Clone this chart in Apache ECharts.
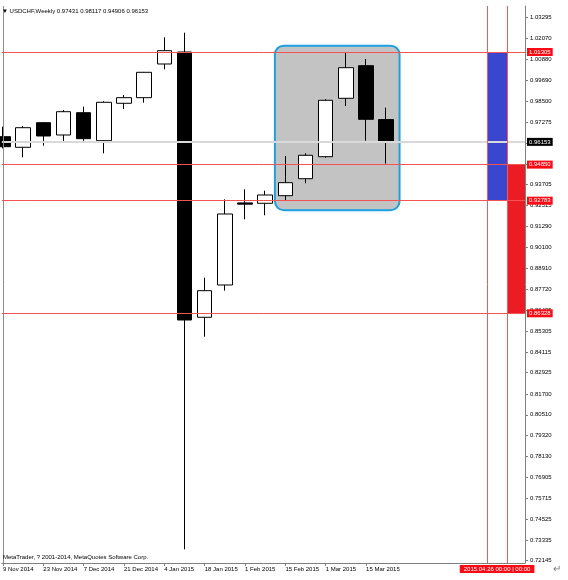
<!DOCTYPE html>
<html>
<head>
<meta charset="utf-8">
<title>USDCHF Weekly</title>
<script src="https://cdn.jsdelivr.net/npm/echarts@6/dist/echarts.min.js"></script>
<style>
html, body { margin: 0; padding: 0; background: #fff; }
#chart { width: 568px; height: 580px; }
</style>
</head>
<body>
<div id="chart"></div>
<script>
// weekly bars, index 0 = week of 9 Nov 2014
var weeks = ['9 Nov 2014', '16 Nov 2014', '23 Nov 2014', '30 Nov 2014', '7 Dec 2014',
    '14 Dec 2014', '21 Dec 2014', '28 Dec 2014', '4 Jan 2015', '11 Jan 2015',
    '18 Jan 2015', '25 Jan 2015', '1 Feb 2015', '8 Feb 2015', '15 Feb 2015',
    '22 Feb 2015', '1 Mar 2015', '8 Mar 2015', '15 Mar 2015', '22 Mar 2015'];
var open  = [0.96450, 0.95843, 0.97253, 0.96548, 0.97826, 0.96221, 0.98365, 0.98686, 1.00617, 1.01305,
             0.86099, 0.87950, 0.92655, 0.92633, 0.93069, 0.94043, 0.95304, 0.98651, 1.00520, 0.97431];
var close = [0.95877, 0.96966, 0.96490, 0.97883, 0.96336, 0.98422, 0.98686, 1.00141, 1.01380, 0.85944,
             0.87624, 0.92020, 0.92585, 0.93109, 0.93814, 0.95384, 0.98537, 1.00405, 0.97448, 0.96153];
var low   = [0.95780, 0.95270, 0.95934, 0.96106, 0.96164, 0.95499, 0.98038, 0.98399, 1.00313, 0.72802,
             0.84987, 0.87624, 0.91716, 0.91945, 0.92782, 0.93779, 0.95247, 0.98210, 0.96221, 0.94906];
var high  = [0.97023, 0.97064, 0.97290, 0.97981, 0.98170, 0.98479, 0.98840, 1.00160, 1.02148, 1.02411,
             0.88369, 0.92862, 0.93436, 0.93355, 0.95344, 0.95499, 0.98594, 1.01288, 1.00904, 0.98117];

var xLabelIdx = [0, 2, 4, 6, 8, 10, 12, 14, 16, 18];
var yTicks = [1.03295, 1.02070, 1.00880, 0.99690, 0.98500, 0.97275, 0.96085, 0.94895, 0.93705,
              0.92515, 0.91290, 0.90100, 0.88910, 0.87720, 0.86495, 0.85305, 0.84115, 0.82925,
              0.81700, 0.80510, 0.79320, 0.78130, 0.76905, 0.75715, 0.74525, 0.73335, 0.72145];
var yHidden = [0.96085, 0.94895]; // covered by the price labels

var redLevels = [1.01305, 0.94850, 0.92783, 0.86328];
var markWeeks = [24, 25];
var markWeekText = '2015.04.26 00:00 | 00:00';
// [x from, x to, price top, price bottom]
var blueZone = [24, 25, 1.01305, 0.92783];
var redZone = [25, 26, 0.94850, 0.86328];
var highlightBox = [13.48, 19.66, 1.01666, 0.92232];

var font = 'Liberation Sans, Arial, DejaVu Sans, sans-serif';
var f5 = function (v) { return v.toFixed(5); };
var last = weeks.length - 1;

var candles = weeks.map(function (w, i) {
    return [i, open[i], close[i], low[i], high[i]];
});

function rectItem(radius) {
    return function (params, api) {
        var a = api.coord([api.value(0), api.value(2)]);
        var b = api.coord([api.value(1), api.value(3)]);
        var cs = params.coordSys;
        var right = Math.min(b[0], cs.x + cs.width);
        return {
            type: 'rect',
            shape: { x: a[0], y: a[1], width: right - a[0], height: b[1] - a[1], r: radius },
            style: api.style()
        };
    };
}

var labelBase = {
    show: true,
    fontSize: 6,
    fontFamily: font,
    color: '#fff',
    padding: [1, 2, 1, 2]
};

var chart = echarts.init(document.getElementById('chart'));
chart.setOption({
    animation: false,
    backgroundColor: '#fff',
    title: [
        {
            text: '▼ USDCHF,Weekly ' + [open[last], high[last], low[last], close[last]].map(f5).join(' '),
            left: 2,
            top: 8,
            padding: 0,
            textStyle: { fontSize: 6, fontWeight: 'normal', color: '#000', fontFamily: font }
        },
        {
            text: 'MetaTrader, ? 2001-2014, MetaQuotes Software Corp.',
            left: 3,
            top: 554,
            padding: 0,
            textStyle: { fontSize: 6, fontWeight: 'normal', color: '#000', fontFamily: font }
        },
        {
            text: '↵',
            left: 553,
            top: 564,
            padding: 0,
            textStyle: { fontSize: 10, fontWeight: 'normal', color: '#777' }
        }
    ],
    grid: { left: 0, right: 43, top: 6, bottom: 17 },
    xAxis: {
        type: 'value',
        min: -0.056,
        max: 25.88,
        axisLine: { onZero: false, lineStyle: { color: '#808080' } },
        axisTick: { customValues: xLabelIdx, length: 3, lineStyle: { color: '#808080' } },
        axisLabel: {
            customValues: xLabelIdx,
            formatter: function (v) { return weeks[Math.round(v)]; },
            align: 'left',
            margin: 3,
            fontSize: 6,
            color: '#000',
            fontFamily: font
        },
        splitLine: { show: false }
    },
    yAxis: {
        type: 'value',
        position: 'right',
        min: 0.72016,
        max: 1.03941,
        axisLine: { show: true, onZero: false, lineStyle: { color: '#808080' } },
        axisTick: { show: true, customValues: yTicks, length: 3, lineStyle: { color: '#808080' } },
        axisLabel: {
            customValues: yTicks.filter(function (v) { return yHidden.indexOf(v) < 0; }),
            formatter: f5,
            margin: 5,
            fontSize: 6,
            color: '#000',
            fontFamily: font
        },
        splitLine: { show: false }
    },
    series: [
        {
            name: 'price',
            type: 'line',
            data: [],
            z: 1,
            markLine: {
                silent: true,
                symbol: ['none', 'none'],
                precision: 5,
                data: [
                    {
                        yAxis: close[last],
                        lineStyle: { color: '#d9d9d9', width: 2, type: 'solid' },
                        label: Object.assign({}, labelBase, {
                            position: 'end',
                            distance: 2,
                            backgroundColor: '#000',
                            formatter: f5(close[last])
                        })
                    },
                    // left frame of the chart window
                    { xAxis: -0.007, lineStyle: { color: '#8c8c8c', width: 1, type: 'solid' }, label: { show: false } }
                ]
            }
        },
        {
            name: 'box',
            type: 'custom',
            z: 2,
            silent: true,
            renderItem: rectItem(9),
            encode: { x: [0, 1], y: [2, 3] },
            itemStyle: { color: '#c3c3c3', borderColor: '#1ba1e2', borderWidth: 2 },
            data: [highlightBox]
        },
        {
            name: 'zones',
            type: 'custom',
            z: 2,
            silent: true,
            renderItem: rectItem(0),
            encode: { x: [0, 1], y: [2, 3] },
            data: [
                { value: blueZone, itemStyle: { color: '#3b46cf' } },
                { value: redZone, itemStyle: { color: '#ec1c24' } }
            ]
        },
        {
            name: 'USDCHF',
            type: 'candlestick',
            z: 3,
            barWidth: 15,
            data: candles,
            itemStyle: {
                color: '#fff',
                color0: '#000',
                borderColor: '#000',
                borderColor0: '#000',
                borderWidth: 1
            }
        },
        {
            name: 'levels',
            type: 'line',
            data: [],
            z: 5,
            markLine: {
                silent: true,
                symbol: ['none', 'none'],
                precision: 5,
                data: redLevels.map(function (lv) {
                    return {
                        yAxis: lv,
                        lineStyle: { color: '#f25454', width: 1, type: 'solid' },
                        label: Object.assign({}, labelBase, {
                            position: 'end',
                            distance: 2,
                            backgroundColor: '#ff0a14',
                            formatter: f5(lv)
                        })
                    };
                }).concat(markWeeks.map(function (wk, i) {
                    return {
                        xAxis: wk,
                        lineStyle: { color: '#f05a5a', width: 1, type: 'solid' },
                        label: i === 0 ? Object.assign({}, labelBase, {
                            position: 'start',
                            distance: 2,
                            offset: [10, 0],
                            padding: [1, 4, 1, 4],
                            backgroundColor: '#ff0a14',
                            formatter: markWeekText
                        }) : { show: false }
                    };
                }))
            }
        }
    ]
});
</script>
</body>
</html>
